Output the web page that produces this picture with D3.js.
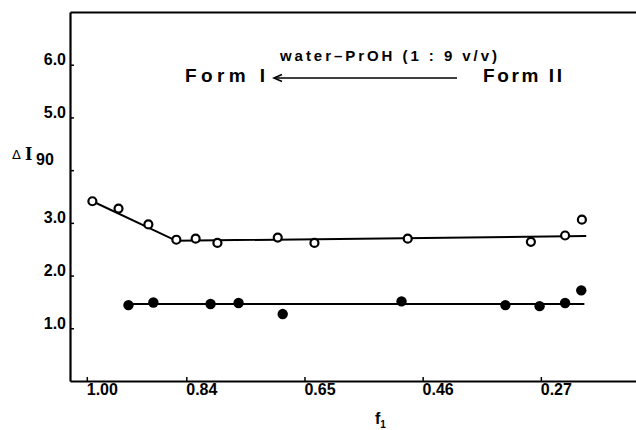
<!DOCTYPE html>
<html>
<head>
<meta charset="utf-8">
<script src="https://cdn.jsdelivr.net/npm/d3@7"></script>
<style>
  html, body { margin: 0; padding: 0; background: #fff; }
  svg { display: block; }
  text { font-family: "Liberation Sans", Arial, sans-serif; fill: #000; }
</style>
</head>
<body>
<svg id="chart" width="636" height="430"></svg>
<script>
// ---- data ----
const xTicks = [1.00, 0.84, 0.65, 0.46, 0.27];
const xTickLabels = ["1.00", "0.84", "0.65", "0.46", "0.27"];
const yTicks = [1, 2, 3, 4, 5, 6];
const yTickLabels = ["1.0", "2.0", "3.0", "", "5.0", "6.0"];

// open circles
const openF = [0.991, 0.949, 0.901, 0.856, 0.825, 0.790, 0.693, 0.634, 0.484, 0.286, 0.231, 0.204];
const openV = [3.41, 3.27, 2.97, 2.68, 2.70, 2.62, 2.72, 2.62, 2.70, 2.64, 2.76, 3.06];
// filled circles
const fillF = [0.933, 0.893, 0.801, 0.756, 0.685, 0.494, 0.327, 0.272, 0.231, 0.205];
const fillV = [1.44, 1.49, 1.46, 1.48, 1.27, 1.51, 1.44, 1.42, 1.48, 1.72];
// drawn fit lines
const openLineF = [0.991, 0.856, 0.197];
const openLineV = [3.41, 2.66, 2.75];
const fillLineF = [0.939, 0.200];
const fillLineV = [1.46, 1.46];

const annotTitle = "water\u2013PrOH (1 : 9 v/v)";
const formLeft = "Form I";
const formRight = "Form II";

// ---- drawing ----
const svg = d3.select("#chart");
const x = d3.scaleLinear().domain([1.027, 0.117]).range([70, 636]);
const y = d3.scaleLinear().domain([0, 7]).range([381, 12]);

// lines
const line = d3.line().x(d => x(d[0])).y(d => y(d[1]));
svg.append("path")
  .datum(d3.zip(openLineF, openLineV))
  .attr("d", line).attr("fill", "none").attr("stroke", "#000").attr("stroke-width", 2);
svg.append("path")
  .datum(d3.zip(fillLineF, fillLineV))
  .attr("d", line).attr("fill", "none").attr("stroke", "#000").attr("stroke-width", 2);

// markers
svg.append("g").selectAll("circle").data(d3.zip(openF, openV)).join("circle")
  .attr("cx", d => x(d[0])).attr("cy", d => y(d[1])).attr("r", 4)
  .attr("fill", "#fff").attr("stroke", "#000").attr("stroke-width", 2.2);
svg.append("g").selectAll("circle").data(d3.zip(fillF, fillV)).join("circle")
  .attr("cx", d => x(d[0])).attr("cy", d => y(d[1])).attr("r", 5.2)
  .attr("fill", "#000");

// axes
const xAxis = d3.axisBottom(x).tickValues(xTicks)
  .tickFormat((d, i) => xTickLabels[i]).tickSizeInner(-4).tickSizeOuter(0).tickPadding(3);
const gx = svg.append("g").attr("transform", `translate(0,${y(0)})`).call(xAxis);
gx.select(".domain").attr("stroke-width", 2);
gx.selectAll(".tick line").attr("stroke-width", 1.5);
gx.selectAll(".tick text").attr("dx", 15)
  .style("font-family", "'Liberation Sans', Arial, sans-serif")
  .style("font-size", "16px").style("font-weight", "bold");

const yAxis = d3.axisLeft(y).tickValues(yTicks)
  .tickFormat((d, i) => yTickLabels[i]).tickSizeInner(-4).tickSizeOuter(0).tickPadding(4);
const gy = svg.append("g").attr("transform", `translate(${x(1.027)},0)`).call(yAxis);
gy.select(".domain").attr("stroke-width", 2.2);
gy.selectAll(".tick line").attr("stroke-width", 1.5);
gy.selectAll(".tick text").attr("transform", "translate(0,-5)")
  .style("font-family", "'Liberation Sans', Arial, sans-serif")
  .style("font-size", "16px").style("font-weight", "bold");

// top frame line
const gt = svg.append("g").attr("transform", `translate(0,${y(7)})`)
  .call(d3.axisTop(x).tickValues([]).tickSizeOuter(0));
gt.select(".domain").attr("stroke-width", 1.8);

// y title  ΔI90
const yt = svg.append("text").attr("y", 159);
yt.append("tspan").attr("x", 12).style("font-family", "'DejaVu Sans', sans-serif")
  .style("font-size", "13px").text("\u0394");
yt.append("tspan").attr("x", 25).attr("y", 160).style("font-family", "'Liberation Serif', serif")
  .style("font-size", "19px").style("font-weight", "bold").text("I");
yt.append("tspan").attr("x", 36).attr("y", 165)
  .style("font-size", "16px").style("font-weight", "bold").text("90");

// x title f1
const xt = svg.append("text").attr("x", 375).attr("y", 424)
  .style("font-size", "16px").style("font-weight", "bold");
xt.append("tspan").text("f");
xt.append("tspan").attr("dy", 4).style("font-size", "10px").text("1");

// annotation
svg.append("text").attr("x", 280).attr("y", 61).attr("textLength", 217)
  .style("font-size", "15px").style("font-weight", "bold").text(annotTitle);
svg.append("text").attr("x", 185).attr("y", 82).attr("textLength", 80)
  .style("font-size", "19px").style("font-weight", "bold").text(formLeft);
svg.append("text").attr("x", 483).attr("y", 82).attr("textLength", 79)
  .style("font-size", "19px").style("font-weight", "bold").text(formRight);
svg.append("line").attr("x1", 274).attr("x2", 457).attr("y1", 78).attr("y2", 78)
  .attr("stroke", "#000").attr("stroke-width", 1.6);
svg.append("path").attr("d", "M282,74.5 L274,78 L282,81.5")
  .attr("fill", "none").attr("stroke", "#000").attr("stroke-width", 1.6);
</script>
</body>
</html>
